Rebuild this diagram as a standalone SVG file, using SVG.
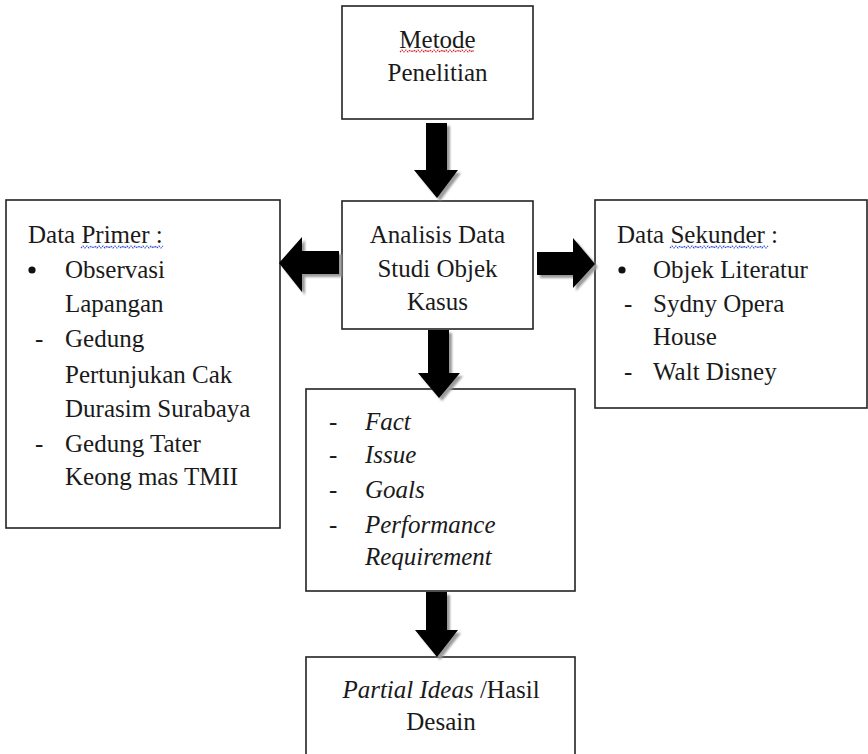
<svg xmlns="http://www.w3.org/2000/svg" width="868" height="754" viewBox="0 0 868 754">
<defs>
<style>
.box{fill:#fff;stroke:#222;stroke-width:1.6}
.t{font-family:"Liberation Serif","DejaVu Serif",serif;font-size:25px;fill:#1a1a1a}
.c{text-anchor:middle}
.i{font-style:italic}
.arr{fill:#000}
.sh{fill:#9a9a9a;filter:url(#blur)}
.wr{fill:none;stroke:#e02020;stroke-width:1.2;stroke-dasharray:1.5 1}
.wb{fill:none;stroke:#3050d0;stroke-width:1.2;stroke-dasharray:1.5 1}
</style>
<filter id="blur" x="-20%" y="-20%" width="140%" height="140%"><feGaussianBlur stdDeviation="1.2"/></filter>
</defs>
<rect width="868" height="754" fill="#fff"/>

<g id="metode">
<rect class="box" x="342" y="6" width="191" height="113"/>
<text class="t c" x="437.5" y="48">Metode</text>
<path class="wr" d="M400 52 l2 -2 l2 2 l2 -2 l2 2 l2 -2 l2 2 l2 -2 l2 2 l2 -2 l2 2 l2 -2 l2 2 l2 -2 l2 2 l2 -2 l2 2 l2 -2 l2 2 l2 -2 l2 2 l2 -2 l2 2 l2 -2 l2 2 l2 -2 l2 2 l2 -2 l2 2 l2 -2 l2 2 l2 -2 l2 2 l2 -2 l2 2 l2 -2 l2 2 l2 -2"/>
<text class="t c" x="437.5" y="81">Penelitian</text>
</g>

<g id="analisis">
<rect class="box" x="342" y="201" width="191" height="128"/>
<text class="t c" x="437.5" y="243">Analisis Data</text>
<text class="t c" x="437.5" y="277">Studi Objek</text>
<text class="t c" x="437.5" y="310">Kasus</text>
</g>

<g id="primer">
<rect class="box" x="6" y="200" width="274" height="328"/>
<text class="t" x="28" y="243">Data Primer :</text>
<path class="wb" d="M81 248 l2 -2 l2 2 l2 -2 l2 2 l2 -2 l2 2 l2 -2 l2 2 l2 -2 l2 2 l2 -2 l2 2 l2 -2 l2 2 l2 -2 l2 2 l2 -2 l2 2 l2 -2 l2 2 l2 -2 l2 2 l2 -2 l2 2 l2 -2 l2 2 l2 -2 l2 2 l2 -2 l2 2 l2 -2 l2 2 l2 -2 l2 2 l2 -2 l2 2 l2 -2 l2 2 l2 -2 l2 2 l2 -2"/>
<circle cx="32" cy="270" r="3.6" fill="#111"/>
<text class="t" x="65" y="278">Observasi</text>
<text class="t" x="65" y="312">Lapangan</text>
<text class="t" x="35" y="347">-</text>
<text class="t" x="65" y="347">Gedung</text>
<text class="t" x="65" y="383">Pertunjukan Cak</text>
<text class="t" x="65" y="417">Durasim Surabaya</text>
<text class="t" x="35" y="452">-</text>
<text class="t" x="65" y="452">Gedung Tater</text>
<text class="t" x="65" y="485">Keong mas TMII</text>
</g>

<g id="sekunder">
<rect class="box" x="595" y="200" width="272" height="208"/>
<text class="t" x="617" y="243">Data Sekunder :</text>
<path class="wb" d="M670 248 l2 -2 l2 2 l2 -2 l2 2 l2 -2 l2 2 l2 -2 l2 2 l2 -2 l2 2 l2 -2 l2 2 l2 -2 l2 2 l2 -2 l2 2 l2 -2 l2 2 l2 -2 l2 2 l2 -2 l2 2 l2 -2 l2 2 l2 -2 l2 2 l2 -2 l2 2 l2 -2 l2 2 l2 -2 l2 2 l2 -2 l2 2 l2 -2 l2 2 l2 -2 l2 2 l2 -2 l2 2 l2 -2 l2 2 l2 -2 l2 2 l2 -2 l2 2 l2 -2 l2 2 l2 -2"/>
<circle cx="622" cy="270" r="3.6" fill="#111"/>
<text class="t" x="653" y="278">Objek Literatur</text>
<text class="t" x="624" y="312">-</text>
<text class="t" x="653" y="312">Sydny Opera</text>
<text class="t" x="653" y="345">House</text>
<text class="t" x="624" y="380">-</text>
<text class="t" x="653" y="380">Walt Disney</text>
</g>

<g id="fact">
<rect class="box" x="306" y="389" width="269" height="202"/>
<text class="t" x="329" y="430">-</text>
<text class="t i" x="365" y="430">Fact</text>
<text class="t" x="329" y="463">-</text>
<text class="t i" x="365" y="463">Issue</text>
<text class="t" x="329" y="498">-</text>
<text class="t i" x="365" y="498">Goals</text>
<text class="t" x="329" y="533">-</text>
<text class="t i" x="365" y="533">Performance</text>
<text class="t i" x="365" y="565">Requirement</text>
</g>

<g id="hasil">
<rect class="box" x="306" y="657" width="269" height="110"/>
<text class="t c" x="441" y="698"><tspan font-style="italic">Partial Ideas</tspan> /Hasil</text>
<text class="t c" x="441" y="730">Desain</text>
</g>

<g id="connectors">
<g transform="translate(3,3)">
<polygon class="sh" points="426,123 447,123 447,170 458,170 437,198 414,170 426,170"/>
<polygon class="sh" points="428,330 449,330 449,373 460,373 439,398 418,373 428,373"/>
<polygon class="sh" points="426,592 447,592 447,630 458,630 437,657 415,630 426,630"/>
<polygon class="sh" points="339,251 339,274 302,274 302,292 279,263 302,237 302,251"/>
<polygon class="sh" points="537,252 537,275 573,275 573,288 595,264 573,238 573,252"/>
</g>
<polygon class="arr" points="426,123 447,123 447,170 458,170 437,198 414,170 426,170"/>
<polygon class="arr" points="428,330 449,330 449,373 460,373 439,398 418,373 428,373"/>
<polygon class="arr" points="426,592 447,592 447,630 458,630 437,657 415,630 426,630"/>
<polygon class="arr" points="339,251 339,274 302,274 302,292 279,263 302,237 302,251"/>
<polygon class="arr" points="537,252 537,275 573,275 573,288 595,264 573,238 573,252"/>
</g>
</svg>
